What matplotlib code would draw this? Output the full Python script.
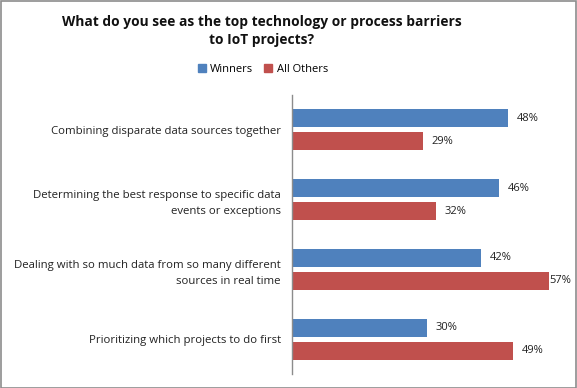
import matplotlib
matplotlib.use("Agg")
import matplotlib.pyplot as plt
from matplotlib.patches import Rectangle, Patch

categories = [
    "Combining disparate data sources together",
    "Determining the best response to specific data\nevents or exceptions",
    "Dealing with so much data from so many different\nsources in real time",
    "Prioritizing which projects to do first",
]
winners = [48, 46, 42, 30]
all_others = [29, 32, 57, 49]
series_names = ["Winners", "All Others"]
colors = ["#4F81BD", "#C0504D"]

plt.rcParams['font.family'] = ['Open Sans', 'DejaVu Sans']

W, H = 577, 388
fig = plt.figure(figsize=(W / 100, H / 100), dpi=100)
fig.patches.append(Rectangle((0.5 / W, 0.5 / H), 1 - 1.5 / W, 1 - 1.5 / H, transform=fig.transFigure,
                             fill=False, edgecolor="#8c8c8c", linewidth=1.2))

left, right = 292 / W, 562 / W
top, bottom = 1 - 95 / H, 1 - 374 / H
ax = fig.add_axes([left, bottom, right - left, top - bottom])

n = len(categories)
ys = list(range(n))
bh = 18 / 69.75
gap = 5 / 69.75
off = (bh + gap) / 2
ax.barh([y - off for y in ys], winners, height=bh, color=colors[0])
ax.barh([y + off for y in ys], all_others, height=bh, color=colors[1])

for y, v in zip(ys, winners):
    ax.text(v + 2.0, y - off, f"{v}%", va="center", ha="left", fontsize=8, color="#222222")
for y, v in zip(ys, all_others):
    ax.text(v + 0.2 if v > 55 else v + 2.0, y + off, f"{v}%", va="center", ha="left", fontsize=8, color="#222222")

ax.set_xlim(0, 60)
ax.set_ylim(n - 0.5, -0.5)
ax.set_yticks(ys)
ax.set_yticklabels(categories, fontsize=8.2, color="#222222", ha="right", multialignment="right",
                   linespacing=1.6)
ax.tick_params(axis="y", length=0, pad=8)
ax.set_xticks([])
for s in ["top", "right", "bottom"]:
    ax.spines[s].set_visible(False)
ax.spines["left"].set_color("#8c8c8c")
ax.spines["left"].set_linewidth(1.0)

fig.text(262 / W, 1 - 31 / H, "What do you see as the top technology or process barriers\nto IoT projects?",
         ha="center", va="center", fontsize=9.9, fontweight="bold", color="#111111", linespacing=1.45)

handles = [Patch(color=c, label=l) for c, l in zip(colors, series_names)]
fig.legend(handles=handles, loc="center", bbox_to_anchor=(263 / W, 1 - 69 / H), ncol=2, frameon=False,
           fontsize=8, handlelength=0.7, handleheight=0.7, handletextpad=0.4, columnspacing=1.0)

fig.savefig("out.png", dpi=100)
